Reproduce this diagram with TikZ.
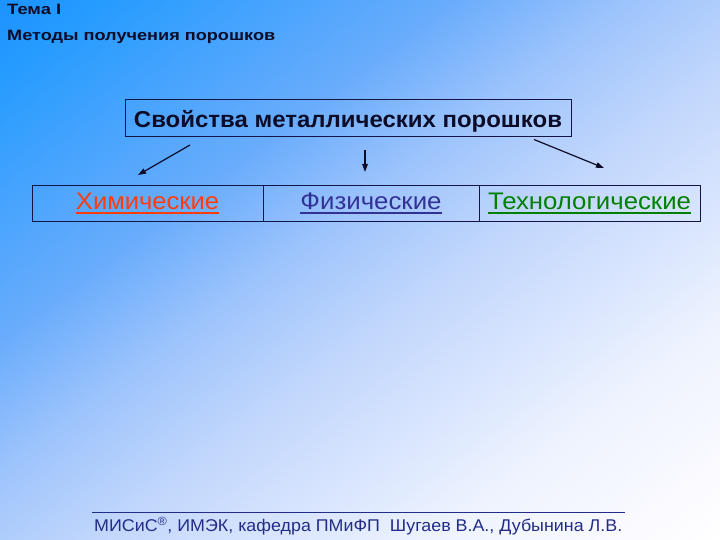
\documentclass[tikz,border=0pt]{standalone}
\usepackage{fontspec}
\setmainfont{Liberation Sans}
\usepackage{graphicx}
\usetikzlibrary{arrows.meta}
\definecolor{g0}{RGB}{28,146,255}
\definecolor{g1}{RGB}{35,155,255}
\definecolor{g2}{RGB}{105,172,252}
\definecolor{g3}{RGB}{158,196,252}
\definecolor{g4}{RGB}{192,214,252}
\definecolor{g5}{RGB}{215,228,254}
\definecolor{g6}{RGB}{238,243,254}
\definecolor{g7}{RGB}{250,250,255}
\pgfdeclarehorizontalshading{bgsh}{1000bp}{color(0bp)=(g0); color(68bp)=(g0); color(124bp)=(g1); color(340bp)=(g2); color(448bp)=(g3); color(552bp)=(g4); color(652bp)=(g5); color(759bp)=(g6); color(868bp)=(g7); color(932bp)=(white); color(1000bp)=(white)}
\definecolor{ink}{RGB}{12,12,40}
\definecolor{framec}{RGB}{20,20,70}
\definecolor{chemc}{RGB}{255,60,10}
\definecolor{physc}{RGB}{50,50,150}
\definecolor{techc}{RGB}{0,128,0}
\definecolor{footc}{RGB}{35,45,135}
\newcommand{\thickul}[1]{\leavevmode\vtop{\hbox{#1}\kern2pt\hrule height 1.6pt}}
\tikzset{
  hdr/.style={anchor=base west, inner sep=0pt, text=ink, font=\fontsize{15}{18}\selectfont\bfseries},
  cell/.style={draw=framec, line width=0.9pt, inner sep=0pt, outer sep=0pt},
  celltxt/.style={font=\fontsize{24}{28}\selectfont, text height=13.4pt, text depth=0pt},
  arr/.style={draw=ink, line width=1.2pt, -{Triangle[length=8pt,width=5.5pt]}},
}
\begin{document}
\begin{tikzpicture}[x=1pt,y=-1pt]
\useasboundingbox (0,0) rectangle (720,540);
\begin{scope}
\clip (0,0) rectangle (720,540);
\node[inner sep=0pt, outer sep=0pt, rotate=-53.13] (bg) at (360,270) {\pgfuseshading{bgsh}};
\end{scope}
% header
\node[hdr] (tema) at (7,14.5) {\resizebox{54pt}{\height}{Тема I}};
\node[hdr] (metody) at (7,41) {\resizebox{268pt}{\height}{Методы получения порошков}};
% title box
\node[cell, minimum width=446pt, minimum height=37pt, text=ink,
      font=\fontsize{23}{27}\selectfont\bfseries, text height=19pt, text depth=0pt] (title) at (348,117.8)
      {\resizebox{428pt}{\height}{Свойства металлических порошков}};
% row
\node[cell, minimum width=231pt, minimum height=36.5pt, celltxt, text=chemc] (chem) at (147.5,203.3)
      {\resizebox{143pt}{\height}{\thickul{Химические}}};
\node[cell, minimum width=216pt, minimum height=36.5pt, celltxt, text=physc] (phys) at (371,203.3)
      {\resizebox{141pt}{\height}{\thickul{Физические}}};
\node[cell, minimum width=221pt, minimum height=36.5pt, celltxt, text=techc] (tech) at (589.5,203.3)
      {\resizebox{203pt}{\height}{\thickul{Технологические}}};
% arrows
\coordinate (a1s) at (190,145);
\coordinate (a1e) at (138,175);
\coordinate (a2s) at (365,150);
\coordinate (a2e) at (365,172);
\coordinate (a3s) at (534,139.5);
\coordinate (a3e) at (604,168);
\draw[arr] (a1s) -- (a1e);
\draw[arr] (a2s) -- (a2e);
\draw[arr] (a3s) -- (a3e);
% footer
\coordinate (fl) at (92,512.5);
\coordinate (fr) at (625,512.5);
\draw[draw=footc, line width=0.9pt] (fl) -- (fr);
\node[anchor=base west, inner sep=0pt, text=footc, font=\fontsize{17}{20}\selectfont] (foot) at (94,531.3)
  {\resizebox{528pt}{\height}{МИСиС\textsuperscript{®}, ИМЭК, кафедра ПМиФП\ \ Шугаев В.А., Дубынина Л.В.}};
\end{tikzpicture}
\end{document}
